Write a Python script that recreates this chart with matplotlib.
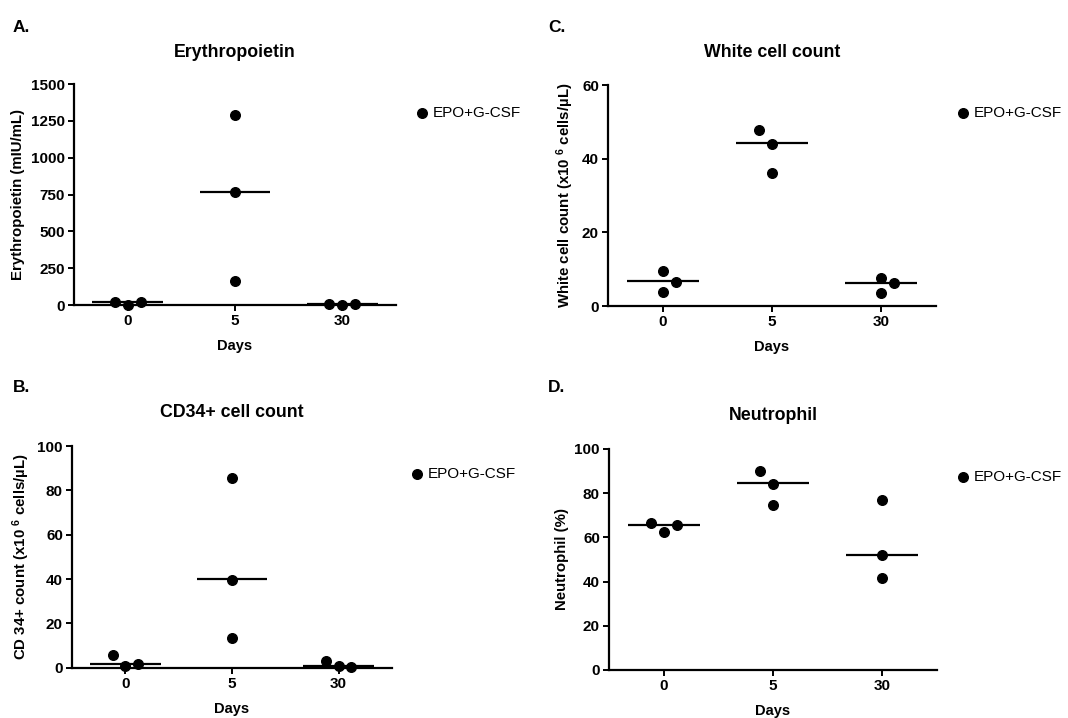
import matplotlib
matplotlib.use("Agg")
import matplotlib.pyplot as plt
import numpy as np

plt.rcParams['font.family'] = ['Liberation Sans', 'DejaVu Sans']
plt.rcParams['mathtext.fontset'] = 'custom'
plt.rcParams['mathtext.rm'] = 'Liberation Sans:bold'
plt.rcParams['mathtext.bf'] = 'Liberation Sans:bold'
plt.rcParams['mathtext.it'] = 'Liberation Sans:bold'

days = ["0", "5", "30"]
series_label = "EPO+G-CSF"

# Panel A: Erythropoietin (mIU/mL)
epo_values = [[20, 2, 22], [1290, 770, 165], [10, 2, 10]]
epo_offsets = [[-0.12, 0.0, 0.12], [0.0, 0.0, 0.0], [-0.12, 0.0, 0.12]]
epo_medians = [20, 770, 10]

# Panel B: CD34+ cell count
cd34_values = [[5.7, 0.8, 1.8], [85.6, 39.6, 13.5], [3.0, 0.8, 0.5]]
cd34_offsets = [[-0.12, 0.0, 0.12], [0.0, 0.0, 0.0], [-0.12, 0.0, 0.12]]
cd34_medians = [1.8, 40, 1.0]

# Panel C: White cell count
wcc_values = [[9.6, 6.6, 3.8], [47.8, 44.0, 36.1], [7.5, 6.2, 3.5]]
wcc_offsets = [[0.0, 0.12, 0.0], [-0.12, 0.0, 0.0], [0.0, 0.12, 0.0]]
wcc_medians = [6.7, 44.3, 6.3]

# Panel D: Neutrophil (%)
neu_values = [[66.4, 62.3, 65.4], [90.0, 84.3, 74.8], [77.0, 51.8, 41.8]]
neu_offsets = [[-0.12, 0.0, 0.12], [-0.12, 0.0, 0.0], [0.0, 0.0, 0.0]]
neu_medians = [65.6, 84.6, 52.0]

fig = plt.figure(figsize=(10.68, 7.18), dpi=100)

panels = [
    dict(rect=[0.0693, 0.5752, 0.3015, 0.3078], vals=epo_values, offs=epo_offsets,
         med=epo_medians, ylim=(0, 1500), yticks=[0, 250, 500, 750, 1000, 1250, 1500],
         title="Erythropoietin", ylabel="Erythropoietin (mIU/mL)", letter="A.",
         letter_xy=(0.012, 0.962), title_y=0.927, legend_xy=(0.3905, 0.843)),
    dict(rect=[0.5693, 0.5738, 0.3071, 0.3078], vals=wcc_values, offs=wcc_offsets,
         med=wcc_medians, ylim=(0, 60), yticks=[0, 20, 40, 60],
         title="White cell count", ylabel=r"White cell count (x10 $^{6}$ cells/µL)", letter="C.",
         letter_xy=(0.513, 0.962), title_y=0.927, legend_xy=(0.897, 0.842)),
    dict(rect=[0.0674, 0.0700, 0.2996, 0.3088], vals=cd34_values, offs=cd34_offsets,
         med=cd34_medians, ylim=(0, 100), yticks=[0, 20, 40, 60, 80, 100],
         title="CD34+ cell count", ylabel=r"CD 34+ count (x10 $^{6}$ cells/µL)", letter="B.",
         letter_xy=(0.012, 0.461), title_y=0.425, legend_xy=(0.386, 0.340)),
    dict(rect=[0.5702, 0.0669, 0.3071, 0.3078], vals=neu_values, offs=neu_offsets,
         med=neu_medians, ylim=(0, 100), yticks=[0, 20, 40, 60, 80, 100],
         title="Neutrophil", ylabel="Neutrophil (%)", letter="D.",
         letter_xy=(0.513, 0.461), title_y=0.421, legend_xy=(0.897, 0.336)),
]

for p in panels:
    ax = fig.add_axes(p["rect"])
    x = np.arange(len(days))
    for i in range(len(days)):
        xs = [x[i] + o for o in p["offs"][i]]
        ax.scatter(xs, p["vals"][i], s=48, color="black", zorder=3, clip_on=False,
                   label=series_label if i == 0 else None)
        ax.plot([x[i] - 0.33, x[i] + 0.33], [p["med"][i], p["med"][i]], color="black",
                lw=1.6, zorder=2, solid_capstyle="butt")
    ax.set_xlim(-0.5, 2.5)
    ax.set_ylim(*p["ylim"])
    ax.set_yticks(p["yticks"])
    ax.set_xticks(x)
    ax.set_xticklabels(days)
    for s in ["top", "right"]:
        ax.spines[s].set_visible(False)
    for s in ["left", "bottom"]:
        ax.spines[s].set_linewidth(1.6)
    ax.tick_params(axis="both", direction="out", length=4.5, width=1.4, labelsize=11, pad=2)
    for lab in ax.get_xticklabels() + ax.get_yticklabels():
        lab.set_fontweight("bold")
    ax.set_xlabel("Days", fontsize=10.5, fontweight="bold", labelpad=8)
    ax.set_ylabel(p["ylabel"], fontsize=10.8, fontweight="bold", labelpad=4)
    cx = p["rect"][0] + p["rect"][2] / 2
    fig.text(cx, p["title_y"], p["title"], ha="center", va="center", fontsize=12.8, fontweight="bold")
    fig.text(p["letter_xy"][0], p["letter_xy"][1], p["letter"], ha="left", va="center",
             fontsize=12.5, fontweight="bold")
    ax.legend(loc="center left", bbox_to_anchor=(p["legend_xy"][0], p["legend_xy"][1]),
              bbox_transform=fig.transFigure, frameon=False, fontsize=11,
              handlelength=0.6, handletextpad=0.4, borderaxespad=0, borderpad=0,
              markerscale=1.0)

fig.savefig("out.png", dpi=100)
